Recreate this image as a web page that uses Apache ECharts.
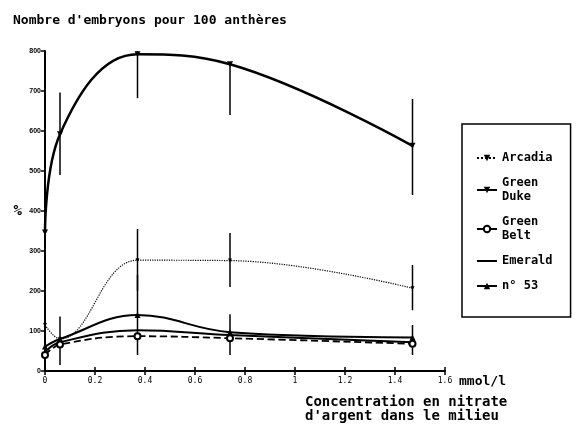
<!DOCTYPE html>
<html>
<head>
<meta charset="utf-8">
<script src="https://cdn.jsdelivr.net/npm/echarts@6/dist/echarts.min.js"></script>
<style>
  body { margin: 0; background: #fff; }
  #chart { width: 577px; height: 429px; }
</style>
</head>
<body>
<div id="chart"></div>
<script>
// concentrations (mmol/l)
var conc = [0, 0.06, 0.37, 0.74, 1.47];

// embryons pour 100 anthères
var greenDuke = [346, 592, 792, 767, 563];
var arcadia = [115, 80, 277, 276, 207];
var n53 = [61, 80, 140, 97, 84];
var emerald = [48, 72, 102, 90, 72];
var greenBelt = [40, 66, 87, 82, 68];

// barres d'erreur (bas / haut)
var dukeLow = [null, 490, 682, 640, 440];
var dukeHigh = [null, 696, 800, 767, 680];
var arcadiaLow = [null, null, 200, 210, 152];
var arcadiaHigh = [null, null, 355, 345, 265];
var lowLow = [null, 15, 40, 40, 40];
var lowHigh = [null, 136, 240, 142, 115];

var xTicks = [0, 0.2, 0.4, 0.6, 0.8, 1, 1.2, 1.4, 1.6];

function pairs(vals) {
  return conc.map(function (x, i) { return [x, vals[i]]; });
}

function bars(low, high) {
  var out = [];
  conc.forEach(function (x, i) {
    if (low[i] != null) out.push([x, low[i], high[i]]);
  });
  return out;
}

var errData = bars(dukeLow, dukeHigh)
  .concat(bars(arcadiaLow, arcadiaHigh))
  .concat(bars(lowLow, lowHigh));

var font = 'DejaVu Sans Mono';

var chart = echarts.init(document.getElementById('chart'));
var option = {
  animation: false,
  title: {
    text: "Nombre d'embryons pour 100 anthères",
    left: 8,
    top: 9,
    textStyle: { fontFamily: font, fontWeight: 'bold', fontSize: 13, color: '#000' }
  },
  grid: { left: 45, right: 132, top: 51, bottom: 58 },
  legend: {
    orient: 'vertical',
    left: 462,
    top: 124,
    padding: [27, 18, 24, 14],
    itemGap: 11,
    itemWidth: 20,
    itemHeight: 8,
    borderColor: '#000',
    borderWidth: 1.5,
    textStyle: { fontFamily: font, fontWeight: 'bold', fontSize: 12, color: '#000', lineHeight: 14 },
    formatter: function (n) {
      return n.indexOf('Green') === 0 ? n.replace(' ', '\n') : n;
    },
    data: ['Arcadia', 'Green Duke', 'Green Belt', { name: 'Emerald', itemStyle: { opacity: 0 } }, 'n° 53']
  },
  xAxis: [{
    type: 'value',
    min: 0,
    max: 1.6,
    interval: 0.2,
    name: 'mmol/l',
    nameLocation: 'end',
    nameGap: 14,
    nameTextStyle: { fontFamily: font, fontWeight: 'bold', fontSize: 13, color: '#000', verticalAlign: 'top', padding: [4, 0, 0, 0] },
    axisLine: { lineStyle: { color: '#000', width: 2 } },
    axisTick: { show: true, length: 4, lineStyle: { color: '#000', width: 1.5 } },
    axisLabel: {
      fontFamily: font, fontSize: 8, color: '#000', margin: 6,
      formatter: function (v) { return xTicks.indexOf(+v.toFixed(1)) >= 0 ? String(+v.toFixed(1)) : ''; }
    },
    splitLine: { show: false }
  }, {
    type: 'value',
    min: 0,
    max: 1.6,
    interval: 0.2,
    position: 'bottom',
    axisLine: { show: false },
    axisTick: { show: true, inside: true, length: 4, lineStyle: { color: '#000', width: 1.5 } },
    axisLabel: { show: false },
    splitLine: { show: false }
  }],
  yAxis: {
    type: 'value',
    min: 0,
    max: 800,
    interval: 100,
    name: '%',
    nameLocation: 'middle',
    nameRotate: 0,
    nameGap: 23,
    nameTextStyle: { fontFamily: font, fontWeight: 'bold', fontSize: 14, color: '#000' },
    axisLine: { show: true, lineStyle: { color: '#000', width: 2 } },
    axisTick: { show: true, length: 4, lineStyle: { color: '#000', width: 1.5 } },
    axisLabel: { fontFamily: 'Liberation Sans Narrow, Liberation Sans', fontWeight: 'bold', fontSize: 7, color: '#000', margin: 4 },
    splitLine: { show: false }
  },
  series: [
    {
      name: 'Green Duke',
      type: 'line',
      smooth: 0.4,
      data: pairs(greenDuke),
      symbol: 'triangle',
      symbolRotate: 180,
      symbolSize: 6,
      itemStyle: { color: '#000' },
      lineStyle: { color: '#000', width: 2.5 }
    },
    {
      name: 'Arcadia',
      type: 'line',
      smooth: 0.4,
      data: pairs(arcadia),
      symbol: 'triangle',
      symbolRotate: 180,
      symbolSize: 4,
      itemStyle: { color: '#000' },
      lineStyle: { color: '#000', width: 1.2, type: 'dotted' }
    },
    {
      name: 'n° 53',
      type: 'line',
      smooth: 0.4,
      data: pairs(n53),
      symbol: 'triangle',
      symbolSize: 6,
      itemStyle: { color: '#000' },
      lineStyle: { color: '#000', width: 2 }
    },
    {
      name: 'Emerald',
      type: 'line',
      smooth: 0.4,
      data: pairs(emerald),
      symbol: 'none',
      itemStyle: { color: '#000' },
      lineStyle: { color: '#000', width: 2 }
    },
    {
      name: 'Green Belt',
      type: 'line',
      smooth: 0.4,
      data: pairs(greenBelt),
      symbol: 'emptyCircle',
      symbolSize: 6,
      itemStyle: { color: '#000', borderColor: '#000', borderWidth: 1.5 },
      lineStyle: { color: '#000', width: 1.8, type: 'dashed' }
    },
    {
      name: 'erreurs',
      type: 'custom',
      data: errData,
      encode: { x: 0, y: [1, 2] },
      renderItem: function (params, api) {
        var x = api.value(0);
        var p1 = api.coord([x, api.value(1)]);
        var p2 = api.coord([x, api.value(2)]);
        return {
          type: 'line',
          shape: { x1: p1[0], y1: p1[1], x2: p2[0], y2: p2[1] },
          style: { stroke: '#000', lineWidth: 1.5 }
        };
      },
      z: 1
    }
  ],
  graphic: [{
    type: 'text',
    left: 305,
    top: 395,
    style: {
      text: "Concentration en nitrate\nd'argent dans le milieu",
      font: 'bold 14px "DejaVu Sans Mono"',
      fill: '#000',
      lineHeight: 14
    }
  }]
};
chart.setOption(option);
</script>
</body>
</html>
